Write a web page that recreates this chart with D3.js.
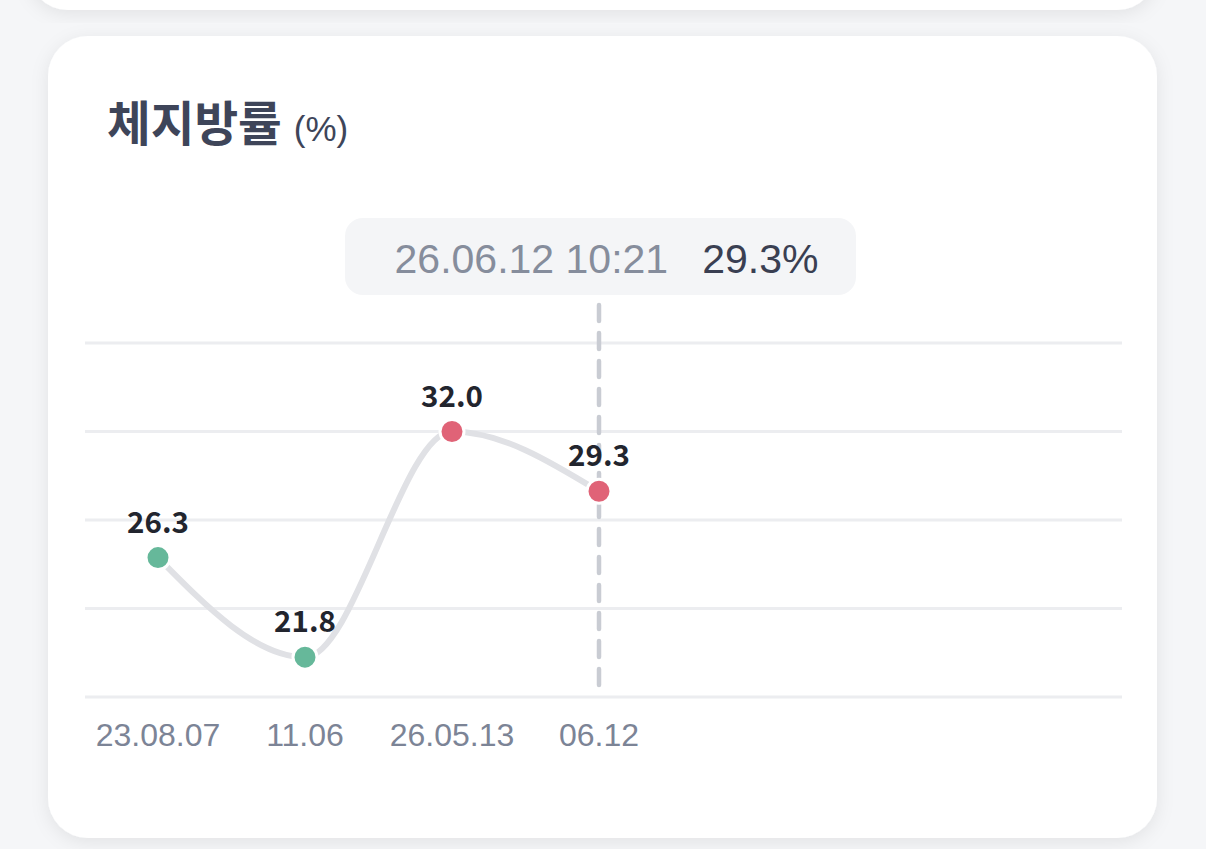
<!DOCTYPE html>
<html><head><meta charset="utf-8">
<script src="https://cdn.jsdelivr.net/npm/d3@7"></script>
<style>
html,body{margin:0;padding:0;background:#f5f6f8;}
svg{display:block;}
</style></head>
<body>
<svg id="c" width="1206" height="849"></svg>
<script>
const categories = ["23.08.07", "11.06", "26.05.13", "06.12"];
const values = [26.3, 21.8, 32.0, 29.3];
const statuses = ["normal", "normal", "high", "high"];
const yTicks = [20, 24, 28, 32, 36];
const slotCount = 7;
const tooltipDate = "26.06.12 10:21";
const tooltipValue = "29.3%";
const selectedIndex = 3;

const svg = d3.select("#c");
const defs = svg.append("defs");
const f = defs.append("filter").attr("id","sh").attr("x","-10%").attr("y","-10%").attr("width","120%").attr("height","120%");
f.append("feDropShadow").attr("dx",0).attr("dy",4).attr("stdDeviation",9).attr("flood-color","#000").attr("flood-opacity",0.08);

// cards
svg.append("rect").attr("x",28).attr("y",-120).attr("width",1129).attr("height",130).attr("rx",40).attr("fill","#fff").attr("filter","url(#sh)");
svg.append("rect").attr("x",48).attr("y",36).attr("width",1109).attr("height",802).attr("rx",40).attr("fill","#fff").attr("filter","url(#sh)");

// title
const title = svg.append("text").attr("x",107).attr("y",141).attr("fill","#3e4559");
title.append("tspan").attr("font-family","'Noto Sans CJK KR'").attr("font-weight",700).attr("font-size",47.5).text("체지방률");
title.append("tspan").attr("dx",12).attr("font-family","'Liberation Sans', Arial").attr("font-weight",400).attr("font-size",35).text("(%)");

const gridLeft = 85, gridRight = 1122;
const x = d3.scaleBand().domain(d3.range(slotCount)).range([84.5, 1113.5]);
const cx = i => x(i) + x.bandwidth()/2;
const y = d3.scaleLinear().domain([20, 36]).range([697, 343]);

// grid
svg.append("g").selectAll("line").data(yTicks).join("line")
  .attr("x1",gridLeft).attr("x2",gridRight).attr("y1",d=>y(d)).attr("y2",d=>y(d))
  .attr("stroke","#ecedf0").attr("stroke-width",3);

// x axis labels
svg.append("g").selectAll("text").data(categories).join("text")
  .attr("x",(d,i)=>cx(i)).attr("y",746).attr("text-anchor","middle")
  .attr("font-family","'Liberation Sans', Arial").attr("font-size",32).attr("fill","#7c8496").text(d=>d);

// dashed selection line
svg.append("line").attr("x1",cx(selectedIndex)).attr("x2",cx(selectedIndex))
  .attr("y1",305).attr("y2",688).attr("stroke","#c9ccd3").attr("stroke-width",4.5)
  .attr("stroke-dasharray","16 12").attr("stroke-linecap","round");

// line
const line = d3.line().x((d,i)=>cx(i)).y(d=>y(d)).curve(d3.curveMonotoneX);
svg.append("path").datum(values).attr("d",line).attr("fill","none")
  .attr("stroke","#e0e1e5").attr("stroke-width",6).attr("stroke-linecap","round");

// points
const color = s => s === "high" ? "#e06377" : "#66b89a";
svg.append("g").selectAll("circle").data(values).join("circle")
  .attr("cx",(d,i)=>cx(i)).attr("cy",d=>y(d)).attr("r",12)
  .attr("fill",(d,i)=>color(statuses[i])).attr("stroke","#fff").attr("stroke-width",3);

// value labels
svg.append("g").selectAll("text").data(values).join("text")
  .attr("x",(d,i)=>cx(i)).attr("y",d=>y(d)-25).attr("text-anchor","middle")
  .attr("font-family","'Noto Sans CJK KR'").attr("font-weight",700).attr("font-size",29.5)
  .attr("fill","#22252e").text(d=>d.toFixed(1));

// tooltip
const tg = svg.append("g");
tg.append("rect").attr("x",345).attr("y",218).attr("width",511).attr("height",77).attr("rx",18).attr("fill","#f4f5f7");
const tt = tg.append("text").attr("x",606.5).attr("y",273).attr("text-anchor","middle")
  .attr("font-family","'Liberation Sans', Arial").attr("font-size",41);
tt.append("tspan").attr("fill","#868d9c").text(tooltipDate);
tt.append("tspan").attr("dx",34).attr("fill","#3a3f52").text(tooltipValue);
</script>
</body></html>
